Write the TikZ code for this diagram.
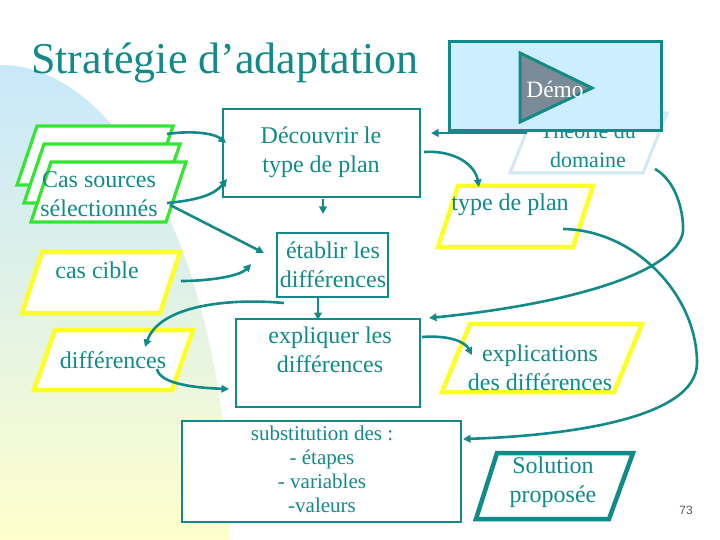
\documentclass[tikz,border=0pt]{standalone}
\usepackage{fontspec}
\setmainfont{Liberation Serif}
\newfontfamily\arialfont{Liberation Sans}
\usetikzlibrary{arrows.meta}
\definecolor{teal1}{RGB}{18,138,138}
\definecolor{greenb}{RGB}{50,230,50}
\definecolor{yellowb}{RGB}{255,255,40}
\definecolor{demofill}{RGB}{204,238,255}
\definecolor{trifill}{RGB}{122,138,150}
\definecolor{theob}{RGB}{210,232,245}
\definecolor{bgblue}{RGB}{200,232,250}
\definecolor{bgmid}{RGB}{225,242,230}
\definecolor{bgyellow}{RGB}{255,255,204}
\tikzset{
  txt/.style={text=teal1, font=\fontsize{24}{29}\selectfont, align=center, inner sep=0pt},
  boxline/.style={draw=teal1, line width=2.6pt, fill=white},
  conn/.style={draw=teal1, line width=2.6pt, -{Triangle[length=7.5pt,width=7.5pt]}},
  greenpar/.style={draw=greenb, line width=3.2pt, fill=white, line join=miter},
  yellowpar/.style={draw=yellowb, line width=4.5pt, fill=white},
}
\begin{document}
\begin{tikzpicture}[x=1pt,y=-1pt]
\useasboundingbox (0,0) rectangle (720,540);
\fill[white] (0,0) rectangle (720,540);
% background quarter ellipse with gradient
\shade[top color=bgblue, bottom color=bgyellow, middle color=bgmid]
  (0,65) arc[start angle=-90, end angle=0, x radius=230, y radius=475] -- (0,540) -- cycle;

% title
\node[anchor=base west, text=teal1, font=\fontsize{44}{50}\selectfont, inner sep=0pt] (title) at (31,74) {Stratégie d’adaptation};

% Theorie du domaine (under the demo box)
\draw[draw=theob, line width=3pt, fill=white] (534,113) -- (667,113) -- (643,173) -- (510,173) -- cycle;
\node[txt, font=\fontsize{22}{29}\selectfont] (theo) at (588,145) {Théorie du\\domaine};

% Demo box
\node[draw=teal1, line width=3pt, fill=demofill, minimum width=212pt, minimum height=89pt, inner sep=0pt] (demo) at (555,86.5) {};
\draw[draw=teal1, line width=3pt, fill=trifill, line join=miter] (520,53) -- (592,88) -- (520,122) -- cycle;
\node[text=white, font=\fontsize{23.5}{26}\selectfont, inner sep=0pt] (demotxt) at (555,89) {Démo};

% green stacked parallelograms
\draw[greenpar] (37,126) -- (173,126) -- (153,185) -- (17,185) -- cycle;
\draw[greenpar] (44,144) -- (180,144) -- (160,203) -- (24,203) -- cycle;
\draw[greenpar] (51,162) -- (186,162) -- (166,222) -- (31,222) -- cycle;
\node[txt] (cas) at (99,194) {Cas sources\\sélectionnés};

% yellow parallelograms
\draw[yellowpar] (42,252) -- (180,252) -- (160,313) -- (22,313) -- cycle;
\node[txt] (cible) at (97,270) {cas cible};
\draw[yellowpar] (55,330) -- (193,330) -- (172,390) -- (34,390) -- cycle;
\node[txt] (diff) at (113,360) {différences};
\draw[yellowpar] (458,186) -- (593,186) -- (573,247) -- (438,247) -- cycle;
\node[txt] (type) at (510,205) {type de plan};
\draw[yellowpar] (470,324) -- (642,324) -- (614,392) -- (442,392) -- cycle;
\node[txt] (expl) at (540,368) {explications\\des différences};

% Solution
\draw[draw=teal1, line width=4.5pt, fill=white] (497,453) -- (633,453) -- (609,519) -- (476,519) -- cycle;
\node[txt] (sol) at (553,482) {Solution\\proposée};

% process boxes
\draw[boxline] (223,109) rectangle (420,197);
\node[txt] (dec) at (321,152) {Découvrir le\\type de plan};
\draw[boxline] (277,233) rectangle (388,297);
\node[txt] (etab) at (333,265) {établir les\\différences};
\draw[boxline] (236,319) rectangle (420,407);
\node[txt] (expq) at (330,350) {expliquer les\\différences};
\draw[boxline] (182,421) rectangle (461,522);
\node[txt, font=\fontsize{21}{24}\selectfont] (subst) at (322,469) {substitution des :\\- étapes\\- variables\\-valeurs};

% page number
\node[font=\arialfont\fontsize{12}{14}\selectfont, text=black!65, inner sep=0pt] (num) at (686,510) {73};

% connector end points
\coordinate (cs1) at (167,134);
\coordinate (cs2) at (167,203);
\coordinate (cs3) at (170,205);
\coordinate (dl1) at (226,143);
\coordinate (dl2) at (227,179);
\coordinate (el1) at (264,253);
\coordinate (cc) at (181,281);
\coordinate (el2) at (251,264);
\coordinate (eb) at (284,303);
\coordinate (dt) at (145,347);
\coordinate (db) at (157,369);
\coordinate (xl) at (229,389);
\coordinate (decb) at (323,199);
\coordinate (decc) at (323,214);
\coordinate (etb) at (318,298);
\coordinate (xt) at (318,320);
\coordinate (decr) at (424,152);
\coordinate (tt) at (479,187);
\coordinate (th1) at (527,133);
\coordinate (decr2) at (431,133);
\coordinate (xr) at (422,337);
\coordinate (exl) at (472,355);
\coordinate (thr) at (655,169);
\coordinate (thk) at (683,232);
\coordinate (xtr) at (429,318);
\coordinate (tpr) at (563,229);
\coordinate (rk) at (697,363);
\coordinate (sr) at (463,439);

\draw[conn] (cs1) .. controls (195,130) and (215,134) .. (dl1);
\draw[conn] (cs2) .. controls (200,200) and (215,194) .. (dl2);
\draw[conn] (cs3) -- (el1);
\draw[conn] (cc) .. controls (210,281) and (240,276) .. (el2);
\draw[conn] (eb) .. controls (230,298) and (160,305) .. (dt);
\draw[conn] (db) .. controls (160,385) and (200,388) .. (xl);
\draw[conn] (decb) -- (decc);
\draw[conn] (etb) -- (xt);
\draw[conn] (decr) .. controls (455,150) and (475,165) .. (tt);
\draw[conn] (th1) -- (decr2);
\draw[conn] (xr) .. controls (450,335) and (465,342) .. (exl);
\draw[conn] (thr) .. controls (675,180) and (684,210) .. (thk) .. controls (675,275) and (560,305) .. (xtr);
\draw[conn] (tpr) .. controls (635,230) and (697,295) .. (rk) .. controls (697,420) and (560,436) .. (sr);
\end{tikzpicture}
\end{document}
